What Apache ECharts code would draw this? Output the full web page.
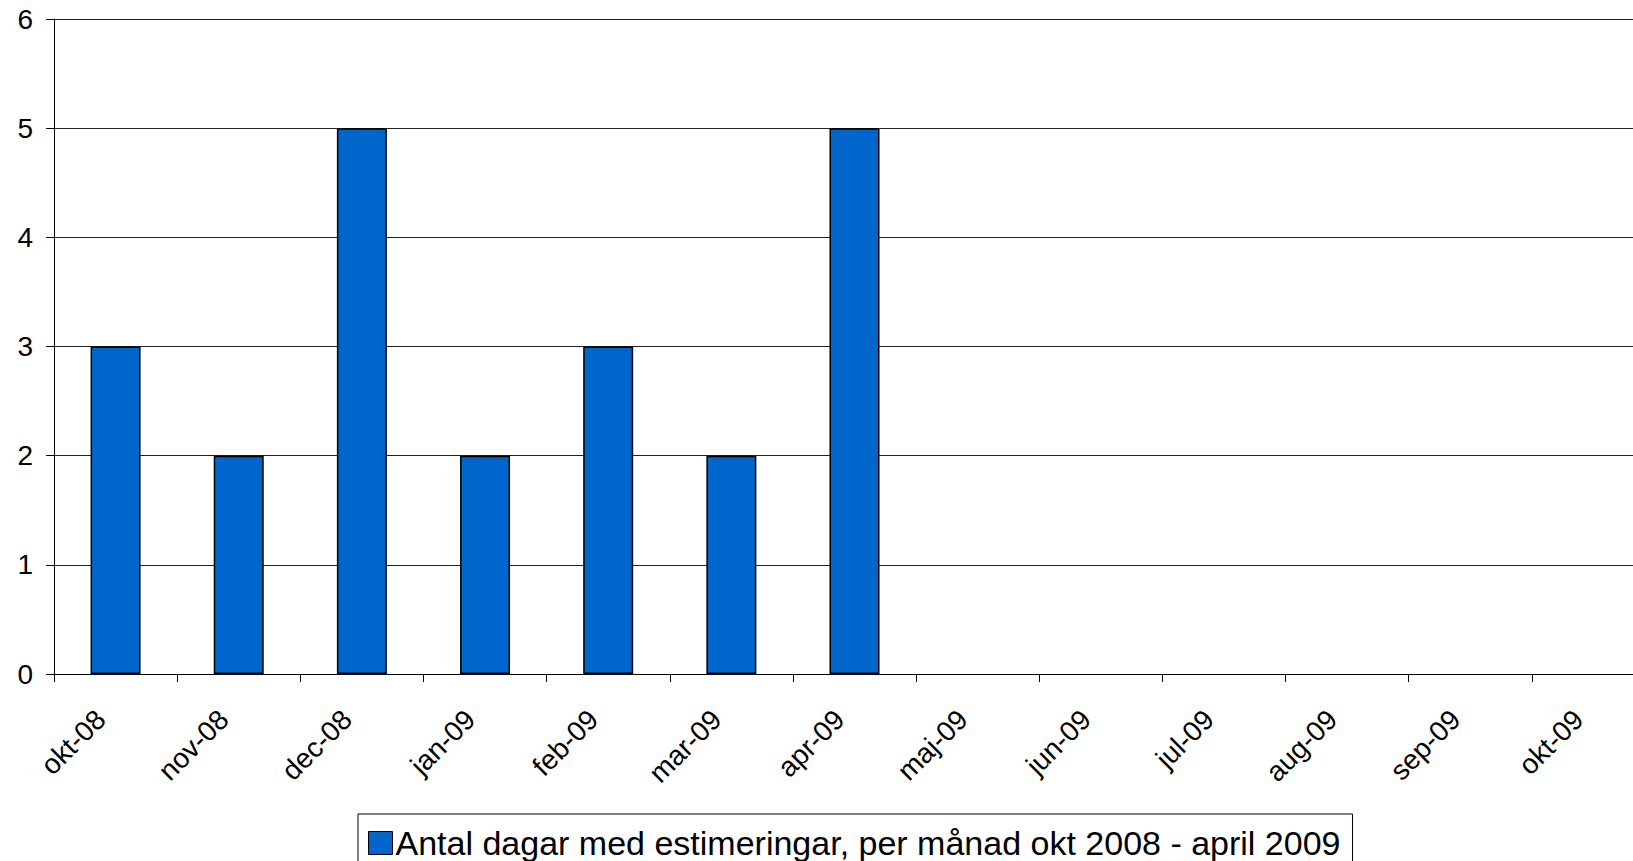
<!DOCTYPE html>
<html>
<head>
<meta charset="utf-8">
<script src="https://cdn.jsdelivr.net/npm/echarts@6/dist/echarts.min.js"></script>
<style>
  html, body { margin: 0; padding: 0; background: #fff; overflow: hidden; }
  /* the plot runs past the right edge of the window, as in the original */
  #chart { width: 1655px; height: 861px; }
</style>
</head>
<body>
<div id="chart"></div>
<script>
// Antal dagar med estimeringar per månad
var months = ['okt-08', 'nov-08', 'dec-08', 'jan-09', 'feb-09', 'mar-09', 'apr-09',
  'maj-09', 'jun-09', 'jul-09', 'aug-09', 'sep-09', 'okt-09'];
var days = [3, 2, 5, 2, 3, 2, 5, '-', '-', '-', '-', '-', '-'];
var seriesName = 'Antal dagar med estimeringar, per månad okt 2008 - april 2009';

(function () {
  var ink = '#000';
  var font = 'Liberation Sans, Arial, sans-serif';

  var chart = echarts.init(document.getElementById('chart'), null, { renderer: 'svg' });
  chart.setOption({
    animation: false,
    textStyle: { fontFamily: font },
    grid: { left: 54, right: 0, top: 19, bottom: 187, containLabel: false },
    legend: {
      data: [seriesName],
      left: 358, top: 814,
      icon: 'rect',
      itemWidth: 24, itemHeight: 23, itemGap: 0,
      padding: [12, 12, 12, 10],
      borderColor: ink, borderWidth: 1,
      textStyle: { color: ink, fontSize: 34, fontFamily: font, padding: [0, 0, 0, -2] },
      itemStyle: { borderColor: ink, borderWidth: 1 }
    },
    xAxis: {
      type: 'category',
      data: months,
      axisLine: { lineStyle: { color: ink, width: 1 } },
      axisTick: { show: true, length: 8, lineStyle: { color: ink } },
      axisLabel: { color: ink, fontSize: 28, rotate: 45, margin: 26, padding: [0, 21, 0, 0], interval: 0 },
      splitLine: { show: false }
    },
    yAxis: {
      type: 'value',
      min: 0, max: 6, interval: 1,
      axisLine: { show: true, lineStyle: { color: ink, width: 1 } },
      axisTick: { show: true, length: 8, lineStyle: { color: ink } },
      axisLabel: { color: ink, fontSize: 28, margin: 21 },
      splitLine: { lineStyle: { color: '#222', width: 1 } }
    },
    series: [{
      name: seriesName,
      type: 'bar',
      data: days,
      barWidth: 50,
      itemStyle: { color: '#0066CC', borderColor: ink, borderWidth: 1.5 }
    }]
  });
  window.addEventListener('resize', function () { chart.resize(); });
})();
</script>
</body>
</html>
